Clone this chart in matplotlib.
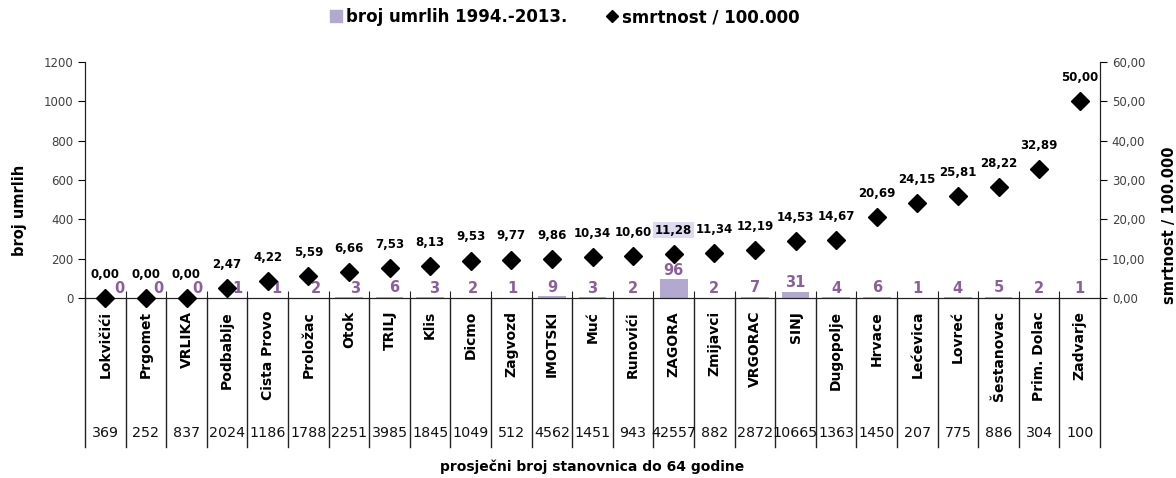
import numpy as np
import matplotlib.pyplot as plt
from matplotlib.lines import Line2D
from matplotlib.patches import Patch
import matplotlib.transforms as mtransforms

plt.rcParams['font.family'] = ['DejaVu Sans']

mjesta = ['Lokvičići', 'Prgomet', 'VRLIKA', 'Podbablje', 'Cista Provo', 'Proložac',
          'Otok', 'TRILJ', 'Klis', 'Dicmo', 'Zagvozd', 'IMOTSKI', 'Muć', 'Runovići',
          'ZAGORA', 'Zmijavci', 'VRGORAC', 'SINJ', 'Dugopolje', 'Hrvace', 'Lećevica',
          'Lovreć', 'Šestanovac', 'Prim. Dolac', 'Zadvarje']
umrli = [0, 0, 0, 1, 1, 2, 3, 6, 3, 2, 1, 9, 3, 2, 96, 2, 7, 31, 4, 6, 1, 4, 5, 2, 1]
smrtnost = [0.00, 0.00, 0.00, 2.47, 4.22, 5.59, 6.66, 7.53, 8.13, 9.53, 9.77, 9.86,
            10.34, 10.60, 11.28, 11.34, 12.19, 14.53, 14.67, 20.69, 24.15, 25.81,
            28.22, 32.89, 50.00]
stanovnici = [369, 252, 837, 2024, 1186, 1788, 2251, 3985, 1845, 1049, 512, 4562, 1451,
              943, 42557, 882, 2872, 10665, 1363, 1450, 207, 775, 886, 304, 100]

bar_col = '#b3a8d0'
lab_col = '#8a5f9c'

def zarez(v):
    return ('%.2f' % v).replace('.', ',')

fig = plt.figure(figsize=(11.76, 4.78), dpi=100)
ax = fig.add_axes([85/1176, 1-298/478, 1015/1176, 236/478])
ax2 = ax.twinx()

n = len(mjesta)
x = np.arange(n)

ax.bar(x, umrli, width=0.68, color=bar_col, zorder=1)
ax.set_ylim(0, 1200)
ax.set_xlim(-0.5, n-0.5)
ax.set_yticks(range(0, 1201, 200))
ax.tick_params(axis='y', labelsize=8.5, labelcolor='#404040', length=5, direction='out')
ax.set_ylabel('broj umrlih', fontsize=10.5, fontweight='bold')
ax.yaxis.set_label_coords(-0.057, 0.37)

ax2.plot(x, smrtnost, linestyle='none', marker='D', markersize=9.5, color='black',
         zorder=3, clip_on=False)
ax2.set_ylim(0, 60)
ax2.set_yticks(range(0, 61, 10))
ax2.set_yticklabels([zarez(v) for v in range(0, 61, 10)])
ax2.tick_params(axis='y', labelsize=8.5, labelcolor='#404040', length=5, direction='out')
ax2.set_ylabel('smrtnost / 100.000', fontsize=10.5, fontweight='bold')
ax2.yaxis.set_label_coords(1.061, 0.31)

for a in (ax, ax2):
    a.spines['top'].set_visible(False)
    for s in ('left', 'right', 'bottom'):
        a.spines[s].set_color('#222222')

# x ticks at category borders, labels go into the table below
ax.set_xticks(np.arange(-0.5, n, 1.0))
ax.set_xticklabels([])
ax.tick_params(axis='x', direction='in', length=5, color='#222222')

trans = mtransforms.blended_transform_factory(ax.transData, ax.transAxes)
for b in np.arange(-0.5, n, 1.0):
    ax.add_line(Line2D([b, b], [0, -0.631], transform=trans, color='#222222',
                       lw=1, clip_on=False))

for i in range(n):
    ax.text(x[i], -0.055, mjesta[i], transform=trans, rotation=90, ha='center',
            va='top', fontsize=10, fontweight='bold')
    ax.text(x[i], -0.57, str(stanovnici[i]), transform=trans, ha='center',
            va='center', fontsize=10.3, color='#111111')

    dx = max(0, 11 - i) * 0.9
    ax.annotate(str(umrli[i]), (x[i], umrli[i]), xytext=(dx, 6.5),
                textcoords='offset points', ha='center', va='center',
                fontsize=10.5, fontweight='bold', color=lab_col, zorder=4)

    box = None
    if umrli[i] == max(umrli):
        box = dict(boxstyle='square,pad=0.15', fc='#dedaf0', ec='none')
    ax2.annotate(zarez(smrtnost[i]), (x[i], smrtnost[i]), xytext=(0, 17),
                 textcoords='offset points', ha='center', va='center',
                 fontsize=8.5, fontweight='bold', bbox=box, zorder=5)

fig.text(592/1176, 1-467/478, 'prosječni broj stanovnica do 64 godine',
         ha='center', va='center', fontsize=10, fontweight='bold')

handles = [Patch(color=bar_col),
           Line2D([], [], linestyle='none', marker='D', markersize=6, color='black')]
fig.legend(handles, ['broj umrlih 1994.-2013.', 'smrtnost / 100.000'],
           loc='center', bbox_to_anchor=(565/1176, 1-17/478), ncol=2, frameon=False,
           prop={'size': 12, 'weight': 'bold'}, handlelength=0.7, handletextpad=0.25,
           columnspacing=2.3)

fig.savefig('out.png', dpi=100)
